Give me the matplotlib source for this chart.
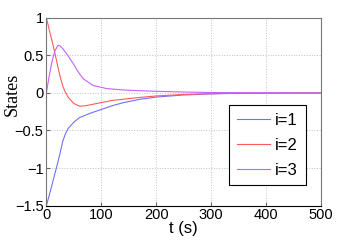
import numpy as np
import matplotlib as mpl
mpl.use('Agg')
import matplotlib.pyplot as plt

# state trajectories
t1 = [0, 5, 10, 15, 20, 25, 30, 35, 40, 50, 60, 80, 100, 120, 140, 170, 200, 250, 300, 350, 400, 500]
x1 = [-1.5, -1.37, -1.23, -1.09, -0.95, -0.80, -0.64, -0.54, -0.47, -0.39, -0.33, -0.27, -0.22, -0.17,
      -0.13, -0.085, -0.055, -0.027, -0.012, -0.005, -0.002, 0.0]

t2 = [0, 5, 10, 15, 20, 25, 30, 34, 40, 50, 60, 70, 80, 100, 120, 150, 170, 200, 250, 300, 350, 400, 500]
x2 = [1.0, 0.85, 0.70, 0.55, 0.38, 0.22, 0.09, 0.02, -0.06, -0.14, -0.175, -0.172, -0.158, -0.128, -0.10,
      -0.075, -0.06, -0.04, -0.02, -0.01, -0.004, -0.002, 0.0]

t3 = [0, 5, 10, 15, 21, 25, 30, 40, 49, 58, 67, 85, 110, 140, 170, 200, 250, 300, 400, 500]
x3 = [0.0, 0.22, 0.41, 0.55, 0.635, 0.625, 0.59, 0.49, 0.39, 0.28, 0.19, 0.10, 0.058, 0.04, 0.03,
      0.022, 0.012, 0.006, 0.002, 0.0]

labels = ['i=1', 'i=2', 'i=3']
colors = ['#7070ff', '#ff5a5a', '#c860ff']

plt.rcParams['font.family'] = ['Liberation Sans', 'DejaVu Sans']

fig = plt.figure(figsize=(3.54, 2.45), dpi=100)
ax = fig.add_axes([0.131, 0.161, 0.775, 0.766])

for t, x, c, lab in zip([t1, t2, t3], [x1, x2, x3], colors, labels):
    ax.plot(t, x, color=c, lw=0.8, label=lab)

ax.set_xlim(0, 500)
ax.set_ylim(-1.5, 1)
ax.set_xticks([0, 100, 200, 300, 400, 500])
ax.set_yticks([-1.5, -1, -0.5, 0, 0.5, 1])
ax.set_yticklabels(['\u22121.5', '\u22121', '\u22120.5', '0', '0.5', '1'])
ax.tick_params(direction='in', length=3, labelsize=10.5, pad=2, color='#666666')
ax.grid(True, linestyle=':', color='#c0c0c0', lw=0.7)

for s in ['top', 'right', 'left']:
    ax.spines[s].set_color('#777777')
ax.spines['bottom'].set_color('black')
for s in ax.spines.values():
    s.set_linewidth(0.8)

ax.set_xlabel('t (s)', fontsize=12, labelpad=-1)
fig.text(0.036, 0.615, 'States', rotation=90, fontsize=13, family='Liberation Serif',
         ha='center', va='center')

leg = ax.legend(loc='lower right', bbox_to_anchor=(0.945, 0.108), borderaxespad=0, fontsize=12,
                fancybox=False, framealpha=1, edgecolor='black', handlelength=2.0,
                handletextpad=0.3, borderpad=0.45, labelspacing=0.6)
leg.get_frame().set_linewidth(0.8)

fig.savefig('out.png', dpi=100)
